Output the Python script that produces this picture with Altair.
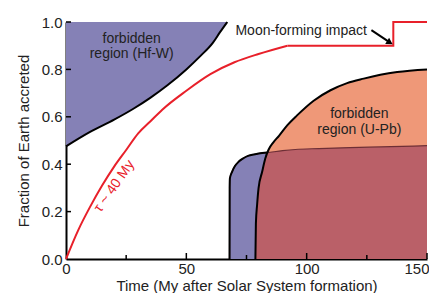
import altair as alt
import pandas as pd

# ---- data ----
# Hf-W forbidden-region boundary
hfw_t = [0, 10, 20, 28, 35, 42, 50, 56, 61, 64, 67]
hfw_y = [0.475, 0.536, 0.588, 0.634, 0.68, 0.732, 0.80, 0.858, 0.912, 0.957, 1.0]

# accretion curve (tau ~ 40 My)
acc_t = [0, 5, 10, 15, 20, 25, 30, 35, 40, 50, 60, 70, 80, 92]
acc_y = [0, 0.12, 0.22, 0.31, 0.39, 0.46, 0.53, 0.58, 0.63, 0.71, 0.78, 0.83, 0.865, 0.90]
# plateau and Moon-forming impact step
step_t = [92, 136, 136, 150]
step_y = [0.90, 0.90, 1.0, 1.0]

# lower (blue) region boundary
low_t = [67.95, 68.0, 68.1, 69.0, 70.2, 71.7, 73.7, 75.9, 78.0, 80.0, 83.6, 90, 95.3, 105, 118, 135, 150]
low_y = [0.0, 0.30, 0.34, 0.368, 0.392, 0.41, 0.425, 0.436, 0.441, 0.445, 0.449, 0.457, 0.462, 0.466, 0.47, 0.474, 0.478]

# U-Pb forbidden-region boundary
upb_t = [78.7, 78.9, 79.4, 80.0, 81.5, 82.8, 84.2, 86.0, 88.5, 92.0, 96, 102.9, 109.9, 116.8, 123.7, 130.6, 137.6, 150]
upb_y = [0, 0.15, 0.228, 0.298, 0.368, 0.424, 0.462, 0.49, 0.52, 0.565, 0.606, 0.668, 0.712, 0.742, 0.761, 0.777, 0.789, 0.80]

# overlap of both lower regions
ovl_t = [78.7, 78.9, 79.4, 80.0, 81.5, 82.8, 83.6, 90, 95.3, 105, 118, 135, 150]
ovl_y = [0, 0.15, 0.228, 0.298, 0.368, 0.424, 0.449, 0.457, 0.462, 0.466, 0.47, 0.474, 0.478]

x_ticks = [0, 50, 100, 150]
x_minor = [25, 75, 125]
y_ticks = [0.0, 0.2, 0.4, 0.6, 0.8, 1.0]

labels_t = [27.3, 27.3, 121.9, 121.9]
labels_y = [0.929, 0.863, 0.611, 0.546]
labels_txt = ["forbidden", "region (Hf-W)", "forbidden", "region (U-Pb)"]

moon_t, moon_y, moon_txt = [70.4], [0.963], ["Moon-forming impact"]
arrow_t, arrow_y = [126.9, 134.2], [0.966, 0.916]
tau_t, tau_y, tau_txt = [20.1], [0.307], ["τ ~ 40 My"]

# ---- styling ----
FONT = "Liberation Sans"
BLUE = "#8581B6"
ORANGE = "#EF9878"
DARKRED = "#BA6068"
RED = "#E8202A"
TXT = "#222222"
SMOOTH = "monotone"
H = 237

x_scale = alt.Scale(domain=[0, 150], nice=False, zero=False)
y_scale = alt.Scale(domain=[0, 1], nice=False)

X = alt.X("t:Q", scale=x_scale,
          axis=alt.Axis(values=x_ticks, title="Time (My after Solar System formation)",
                        labelPadding=2, titlePadding=2,
                        labelAlign=alt.condition("datum.value == 150",
                                                 alt.value("right"), alt.value("center")),
                        labelOffset=alt.condition("datum.value == 150",
                                                  alt.value(2), alt.value(0))))
Y = alt.Y("y:Q", scale=y_scale,
          axis=alt.Axis(values=y_ticks, format=".1f", title="Fraction of Earth accreted",
                        labelPadding=4, titlePadding=10))


def frame(t, y, **extra):
    d = {"t": t, "y": y, "i": list(range(len(t)))}
    d.update(extra)
    return pd.DataFrame(d)


hfw_df = frame(hfw_t, hfw_y, top=[1.0] * len(hfw_t))
low_df = frame(low_t, low_y, base=[0.0] * len(low_t))
upb_df = frame(upb_t, upb_y, base=[0.0] * len(upb_t))
ovl_df = frame(ovl_t, ovl_y, base=[0.0] * len(ovl_t))
acc_df = frame(acc_t, acc_y)
step_df = frame(step_t, step_y)

hfw_area = alt.Chart(hfw_df).mark_area(color=BLUE, interpolate=SMOOTH).encode(
    x=X, y=Y, y2=alt.Y2("top:Q"))
hfw_line = alt.Chart(hfw_df).mark_line(color="black", strokeWidth=2, interpolate=SMOOTH).encode(
    x=X, y=Y)

low_area = alt.Chart(low_df).mark_area(color=BLUE, interpolate=SMOOTH).encode(
    x=X, y=Y, y2=alt.Y2("base:Q"))
upb_area = alt.Chart(upb_df).mark_area(color=ORANGE, interpolate=SMOOTH).encode(
    x=X, y=Y, y2=alt.Y2("base:Q"))
ovl_area = alt.Chart(ovl_df).mark_area(color=DARKRED, interpolate=SMOOTH).encode(
    x=X, y=Y, y2=alt.Y2("base:Q"))

low_thin = alt.Chart(low_df).mark_line(color="#6E2F36", strokeWidth=1.2, interpolate=SMOOTH).encode(
    x=X, y=Y)
low_line = alt.Chart(low_df).transform_filter("datum.t <= 84").mark_line(
    color="black", strokeWidth=2, interpolate=SMOOTH).encode(x=X, y=Y)
upb_line = alt.Chart(upb_df).mark_line(color="black", strokeWidth=2, interpolate=SMOOTH).encode(
    x=X, y=Y)

acc_line = alt.Chart(acc_df).mark_line(color=RED, strokeWidth=2, interpolate=SMOOTH).encode(
    x=X, y=Y)
step_line = alt.Chart(step_df).mark_line(color=RED, strokeWidth=2).encode(
    x=X, y=Y, order="i:Q")

lab_df = pd.DataFrame({"t": labels_t, "y": labels_y, "txt": labels_txt})
labels = alt.Chart(lab_df).mark_text(font=FONT, fontSize=14, color=TXT,
                                     align="center", baseline="middle").encode(
    x=X, y=Y, text="txt:N")

moon_df = pd.DataFrame({"t": moon_t, "y": moon_y, "txt": moon_txt})
moon = alt.Chart(moon_df).mark_text(font=FONT, fontSize=14, color=TXT,
                                    align="left", baseline="middle").encode(
    x=X, y=Y, text="txt:N")

arr_df = frame(arrow_t, arrow_y)
arrow_line = alt.Chart(arr_df).mark_line(color="black", strokeWidth=2).encode(
    x=X, y=Y, order="i:Q")
arrow_head = alt.Chart(arr_df).transform_filter("datum.i == 1").mark_point(
    shape="triangle", filled=True, color="black", size=55, angle=122, opacity=1).encode(
    x=X, y=Y)

tau_df = pd.DataFrame({"t": tau_t, "y": tau_y, "txt": tau_txt})
tau = alt.Chart(tau_df).mark_text(font=FONT, fontSize=14, color=RED, angle=305,
                                  align="center", baseline="middle").encode(
    x=X, y=Y, text="txt:N")

ytick_df = pd.DataFrame({"y": y_ticks[1:]})
ytick = alt.Chart(ytick_df).mark_rule(color="black", strokeWidth=1.5).encode(
    x=alt.value(0), x2=alt.value(5), y=Y)
xtick_df = pd.DataFrame({"t": x_ticks[1:]})
xtick = alt.Chart(xtick_df).mark_rule(color="black", strokeWidth=1.5).encode(
    x=X, y=alt.value(H), y2=alt.value(H - 6))
xminor_df = pd.DataFrame({"t": x_minor})
xminor = alt.Chart(xminor_df).mark_rule(color="black", strokeWidth=1.5).encode(
    x=X, y=alt.value(H), y2=alt.value(H - 4))

chart = alt.layer(
    hfw_area, low_area, upb_area, ovl_area,
    low_thin, low_line, upb_line, hfw_line,
    acc_line, step_line, arrow_line, arrow_head,
    labels, moon, tau, ytick, xtick, xminor,
).properties(
    width=361, height=H,
    autosize=alt.AutoSizeParams(type="none"),
    padding={"left": 58, "top": 14, "right": 2, "bottom": 34},
).configure_view(stroke=None).configure_axis(
    grid=False, ticks=False, tickSize=0,
    domainColor="black", domainWidth=2,
    labelFont=FONT, labelFontSize=15, labelColor=TXT,
    titleFont=FONT, titleFontSize=15, titleFontWeight="normal", titleColor=TXT,
    zindex=1,
)

chart.save("out.html", embed_options={"renderer": "svg", "actions": False})
